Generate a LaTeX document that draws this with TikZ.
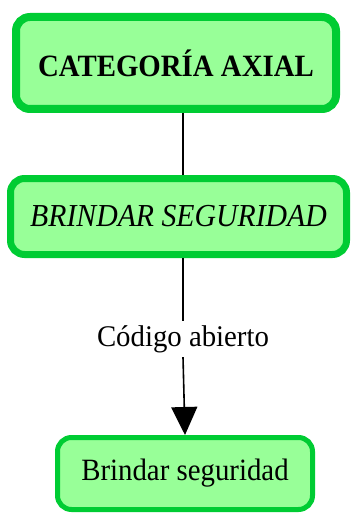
\documentclass[tikz,border=0pt]{standalone}
\usepackage{fontspec}
\setmainfont[FakeStretch=0.93]{Liberation Serif}
\newfontfamily\labelfont[FakeStretch=0.96]{Liberation Serif}
\usetikzlibrary{arrows.meta}
\definecolor{boxfill}{RGB}{152,255,152}
\definecolor{boxline}{RGB}{0,204,51}
\tikzset{
  gbox/.style={draw=boxline, fill=boxfill, rounded corners=14pt, inner sep=0pt, anchor=center},
  conn/.style={draw=black, line width=1.6pt},
}
\begin{document}
\begin{tikzpicture}[x=1pt,y=-1pt]
\useasboundingbox (0,0) rectangle (351,513);
\node[gbox, line width=8pt, minimum width=320pt, minimum height=92pt,
  font=\fontsize{31}{36}\selectfont\bfseries] (b1) at (176,63) {CATEGORÍA AXIAL};
\node[gbox, line width=7pt, minimum width=336pt, minimum height=76pt,
  font=\fontsize{32}{36}\selectfont\itshape] (b2) at (178.5,216.5) {BRINDAR SEGURIDAD};
\node[gbox, line width=5pt, minimum width=255pt, minimum height=72pt,
  font=\fontsize{31}{36}\selectfont] (b3) at (185,473.5) {Brindar seguridad};
\node[inner sep=0pt, minimum height=36pt, font=\labelfont\fontsize{30}{34}\selectfont] (lbl) at (183,339) {Código abierto};
\draw[conn] (b1.south -| lbl) -- (b2.north -| lbl);
\draw[conn] (b2.south -| lbl) -- (lbl.north);
\draw[conn, -{Triangle[width=26pt,length=28pt]}] (lbl.south) -- (b3.north);
\end{tikzpicture}
\end{document}
